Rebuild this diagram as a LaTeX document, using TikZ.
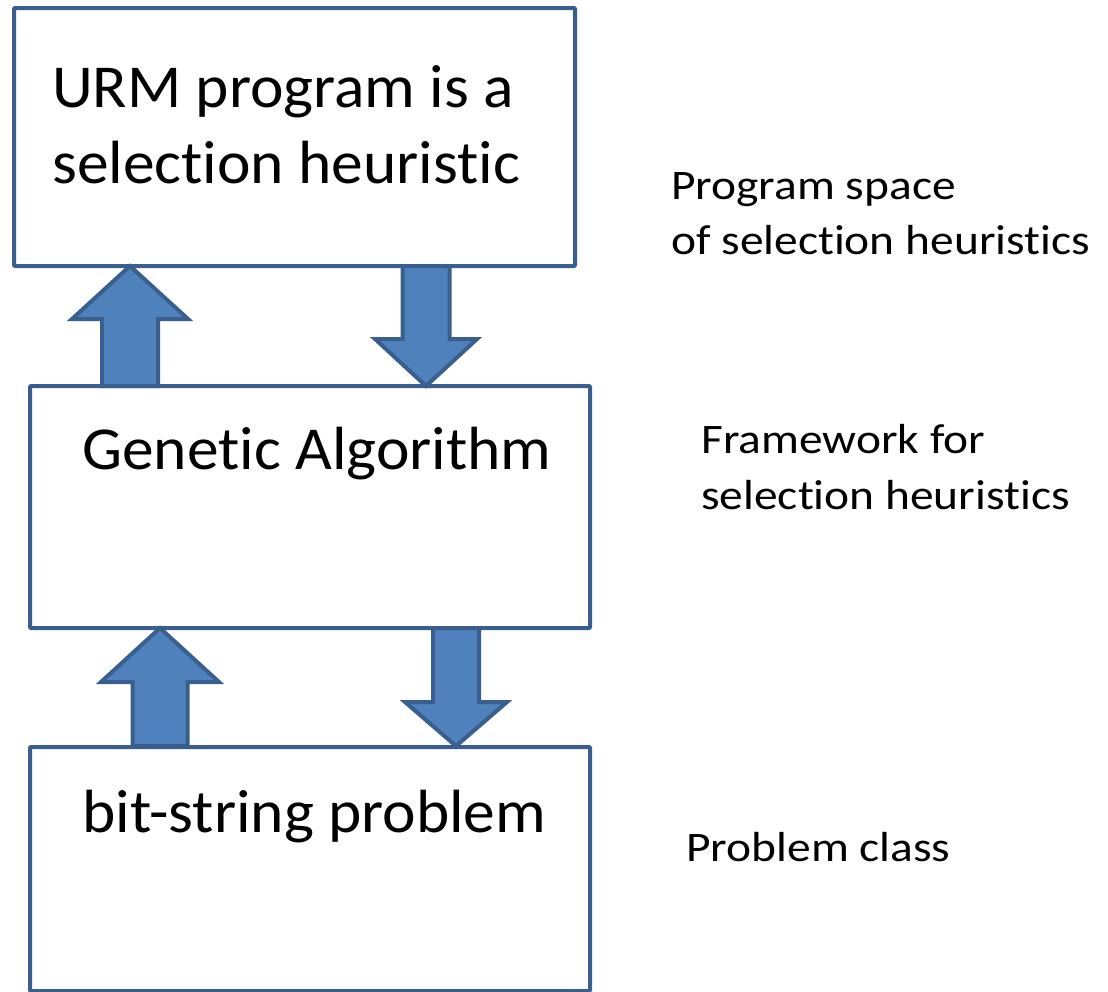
\documentclass[tikz,border=0pt]{standalone}
\usepackage{fontspec}
\setmainfont{Carlito}[Ligatures=NoCommon]
\definecolor{edgeblue}{HTML}{3A5F8F}
\definecolor{fillblue}{HTML}{4F81BD}
\newcommand\blockarr[6]{%
  \filldraw[arrowshape] (#1-#5,#2) -- (#1-#5,#3) -- (#1-#6,#3) -- (#1,#4) -- (#1+#6,#3) -- (#1+#5,#3) -- (#1+#5,#2) -- cycle;}
\begin{document}
\begin{tikzpicture}[x=1pt,y=-1pt,
  box/.style={draw=edgeblue,line width=4pt,fill=white,inner sep=0pt,outer sep=0pt,rounded corners=1pt},
  arrowshape/.style={draw=edgeblue,fill=fillblue,line width=4pt,line join=miter},
  bigtxt/.style={anchor=base west,inner sep=0pt,xscale=1.04,font=\fontsize{61}{72}\selectfont},
  sidetxt/.style={anchor=base west,inner sep=0pt,xscale=1.13,font=\fontsize{42}{50}\selectfont}]
\useasboundingbox (0,0) rectangle (1108,991);
\node[box,minimum width=561pt,minimum height=258pt] (b1) at (294.5,137) {};
\node[box,minimum width=560pt,minimum height=242pt] (b2) at (310,507) {};
\node[box,minimum width=560pt,minimum height=244pt] (b3) at (310,869) {};
\blockarr{130}{386}{319}{266}{28}{58}
\blockarr{426}{266}{339}{386}{23.5}{51}
\blockarr{160}{746}{682}{628}{27.5}{59}
\blockarr{456}{628}{702}{746}{23}{51}
\node[bigtxt] (t1a) at (52,107) {URM program is a};
\node[bigtxt] (t1b) at (52,183) {selection heuristic};
\node[bigtxt] (t2) at (82,469) {Genetic Algorithm};
\node[bigtxt] (t3) at (82,832) {bit-string problem};
\node[sidetxt] (s1a) at (671,199) {Program space};
\node[sidetxt] (s1b) at (671,254) {of selection heuristics};
\node[sidetxt] (s2a) at (701,453) {Framework for};
\node[sidetxt] (s2b) at (701,509) {selection heuristics};
\node[sidetxt] (s3) at (686,861) {Problem class};
\end{tikzpicture}
\end{document}
